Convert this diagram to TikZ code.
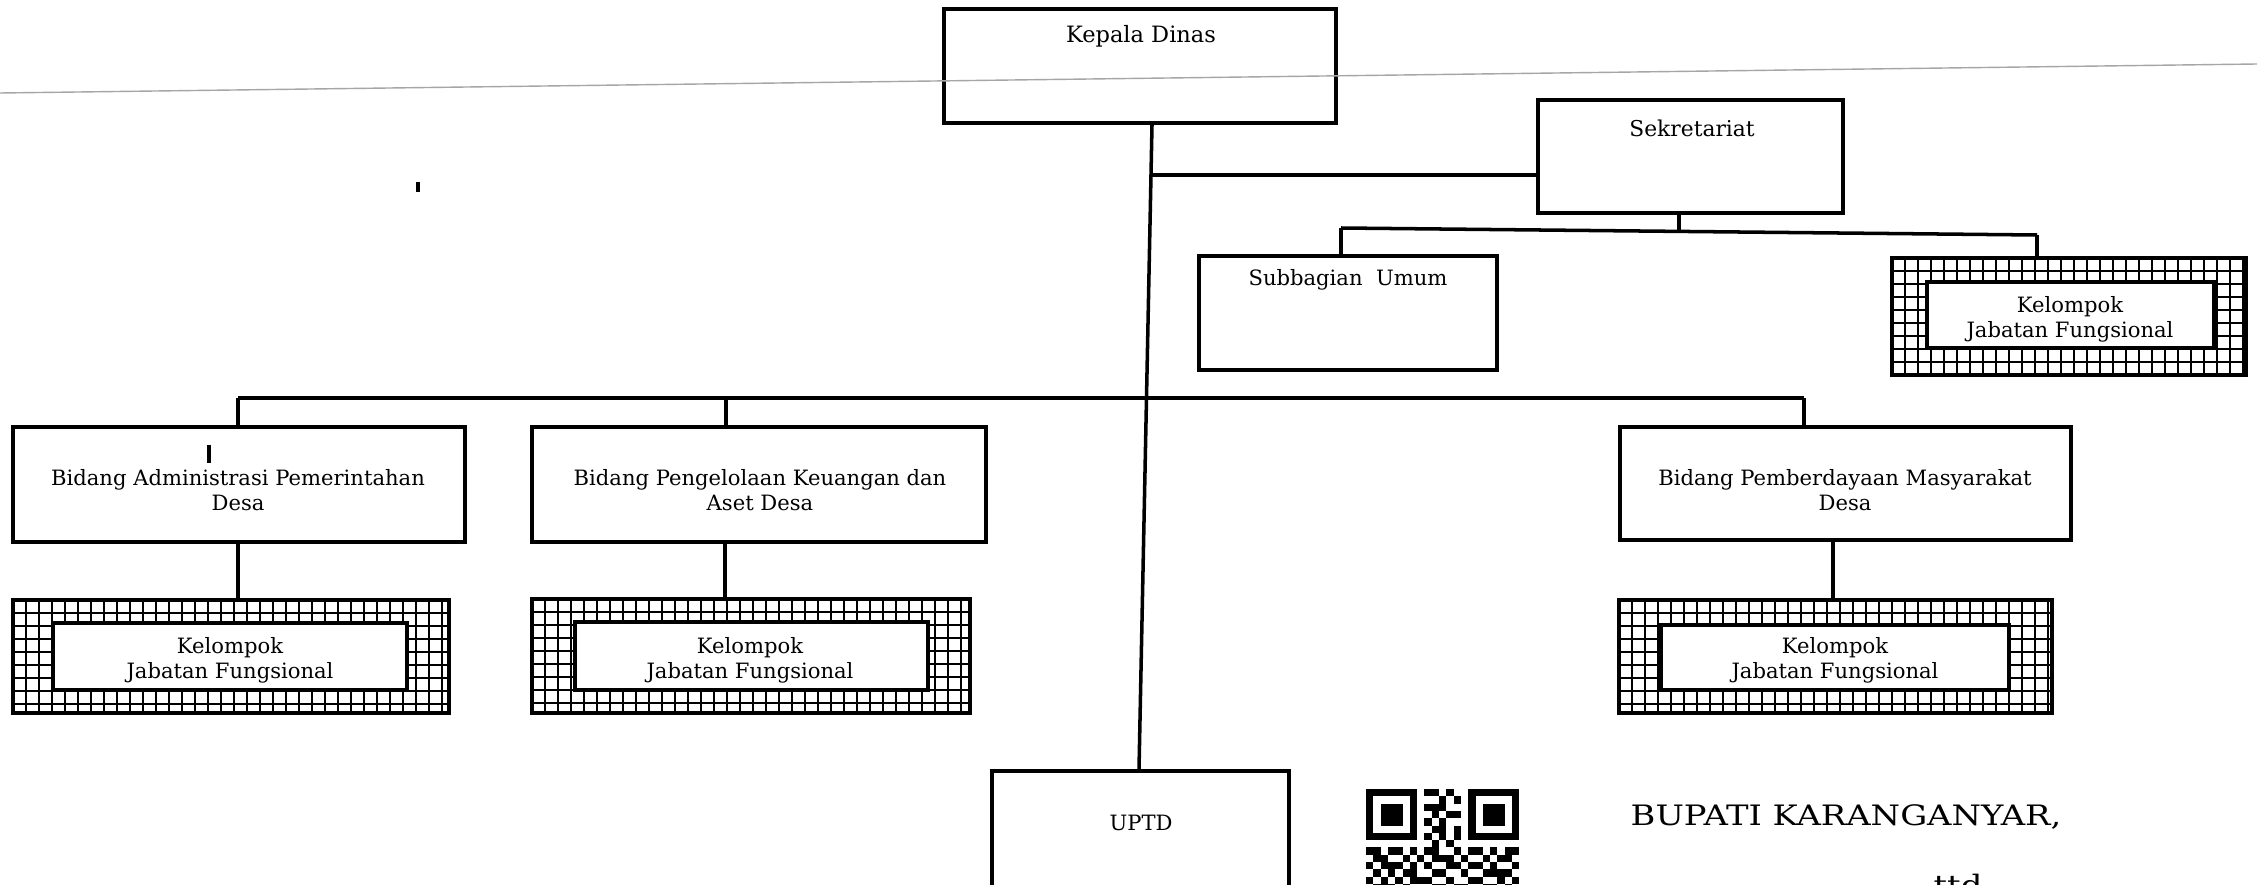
\documentclass[tikz,border=0pt]{standalone}
\usepackage{fontspec}
\setmainfont{DejaVu Serif}
\usetikzlibrary{fit}
\newcommand{\kjgroup}[9]{%
  \begin{scope}
    \clip (#2,#3) rectangle (#4,#5);
    \foreach \i in {0,...,40} \draw[gridln] (#2+\i*13,#3) -- (#2+\i*13,#5);
    \foreach \j in {0,...,12} \draw[gridln] (#2,#3+\j*13) -- (#4,#3+\j*13);
  \end{scope}
  \node[outbox, fit={(#2,#3)(#4,#5)}] (#1) {};
  \node[inbox, fit={(#6,#7)(#8,#9)}] (#1in) {};
}
\begin{document}
\begin{tikzpicture}[x=0.01cm,y=-0.01cm,
  box/.style={draw, line width=1.1pt, inner sep=0pt, fill=white},
  outbox/.style={draw, line width=1pt, inner sep=0pt},
  inbox/.style={draw, line width=0.9pt, inner sep=0pt, fill=white},
  gridln/.style={line width=0.55pt},
  conn/.style={line width=1pt},
  txt/.style={align=center, font=\fontsize{6}{7.1}\selectfont, inner sep=0pt},
  big/.style={font=\fontsize{8}{10}\selectfont, inner sep=0pt},
  scanmark/.style={line width=0.9pt}]
\useasboundingbox (0,0) rectangle (2257,885);
\fill[white] (0,0) rectangle (2257,885);

% junction coordinates
\coordinate (tA) at (1152,0);
\coordinate (tB) at (1139,0);
\coordinate (jS) at (1151,175);
\coordinate (sD) at (1679,231);
\coordinate (sbL) at (1341,228);
\coordinate (sbR) at (2037,235);
\coordinate (bL) at (238,398);
\coordinate (bM) at (726,398);
\coordinate (bR) at (1804,398);
\coordinate (vA) at (238,0);
\coordinate (vP) at (725,0);
\coordinate (vM) at (1833,0);

% boxes
\node[box, fit={(944,9)(1336,123)}] (kd) {};
\node[txt, font=\fontsize{6.4}{7.5}\selectfont] (kdT) at (1141,36) {Kepala Dinas};

\node[box, fit={(1538,100)(1843,213)}] (sek) {};
\node[txt, font=\fontsize{6.2}{7.5}\selectfont] (sekT) at (1692,128) {Sekretariat};

\node[box, fit={(1199,256)(1497,370)}] (sub) {};
\node[txt] (subT) at (1348,280) {Subbagian~~Umum};

\kjgroup{kjs}{1892}{258}{2246}{375}{1927}{282}{2214}{348}
\node[txt] (kjsT) at (2070,319) {Kelompok\\Jabatan Fungsional};

\node[box, fit={(13,427)(465,542)}] (adm) {};
\node[txt] (admT) at (238,490) {Bidang Administrasi Pemerintahan\\Desa};

\node[box, fit={(532,427)(986,542)}] (pkd) {};
\node[txt] (pkdT) at (760,490) {Bidang Pengelolaan Keuangan dan\\Aset Desa};

\node[box, fit={(1620,427)(2071,540)}] (pmd) {};
\node[txt] (pmdT) at (1845,490) {Bidang Pemberdayaan Masyarakat\\Desa};

\kjgroup{kja}{13}{600}{449}{713}{53}{623}{407}{690}
\node[txt] (kjaT) at (230,660) {Kelompok\\Jabatan Fungsional};

\kjgroup{kjp}{532}{599}{970}{713}{575}{622}{928}{690}
\node[txt] (kjpT) at (750,660) {Kelompok\\Jabatan Fungsional};

\kjgroup{kjm}{1619}{600}{2052}{713}{1661}{625}{2009}{690}
\node[txt] (kjmT) at (1835,660) {Kelompok\\Jabatan Fungsional};

\node[box, fit={(992,771)(1289,905)}] (up) {};
\node[txt] (upT) at (1141,823) {UPTD};

% connectors
\draw[conn] (kd.south -| tA) -- (up.north -| tB);
\draw[conn] (jS) -- (jS -| sek.west);
\draw[conn] (sek.south -| sD) -- (sD);
\draw[conn] (sbL) -- (sbR);
\draw[conn] (sbL) -- (sub.north -| sbL);
\draw[conn] (sbR) -- (kjs.north -| sbR);
\draw[conn] (bL) -- (bR);
\draw[conn] (bL) -- (adm.north -| bL);
\draw[conn] (bM) -- (pkd.north -| bM);
\draw[conn] (bR) -- (pmd.north -| bR);
\draw[conn] (adm.south -| vA) -- (kja.north -| vA);
\draw[conn] (pkd.south -| vP) -- (kjp.north -| vP);
\draw[conn] (pmd.south -| vM) -- (kjm.north -| vM);

% QR code (top part visible)
\begin{scope}
  \clip (0,0) rectangle (2257,885);
  \def\qm{7.3}
  \foreach \qx in {0,14} {
    \fill (1366+\qx*\qm,789) rectangle ++(7*\qm,7*\qm);
    \fill[white] (1366+\qx*\qm+\qm,789+\qm) rectangle ++(5*\qm,5*\qm);
    \fill (1366+\qx*\qm+2*\qm,789+2*\qm) rectangle ++(3*\qm,3*\qm);
  }
  \foreach \c/\r in {8/0,9/0,11/0,10/1,12/1,8/2,9/2,10/2,9/3,11/3,12/3,8/4,10/4,
    9/5,10/5,12/5,8/6,10/6,12/6,9/7,11/7,
    0/8,1/8,3/8,4/8,6/8,8/8,9/8,12/8,14/8,15/8,17/8,19/8,20/8,
    1/9,2/9,5/9,7/9,9/9,10/9,11/9,13/9,16/9,18/9,19/9,
    0/10,2/10,3/10,4/10,6/10,8/10,11/10,12/10,14/10,15/10,17/10,20/10,
    1/11,3/11,5/11,6/11,9/11,10/11,13/11,16/11,17/11,18/11,19/11,
    0/12,2/12,4/12,6/12,7/12,8/12,11/12,14/12,15/12,18/12,20/12,
    1/13,2/13,3/13,5/13,9/13,10/13,12/13,13/13,16/13,17/13,19/13}
    \fill (1366+\c*\qm,789+\r*\qm) rectangle ++(\qm,\qm);
\end{scope}

\node[big] (bup) at (1846,817) {\scalebox{1.2}[1]{BUPATI KARANGANYAR,}};
\begin{scope}
  \clip (0,0) rectangle (2257,885);
  \node[big, anchor=base] (ttd) at (1958,895) {\scalebox{1.2}[1]{ttd}};
\end{scope}

% scan marks
\draw[gray!70, line width=0.4pt] (0,93) -- (2257,64);
\draw[scanmark] (209,445) -- (209,463);
\draw[scanmark] (418,182) -- (418,192);
\end{tikzpicture}
\end{document}
